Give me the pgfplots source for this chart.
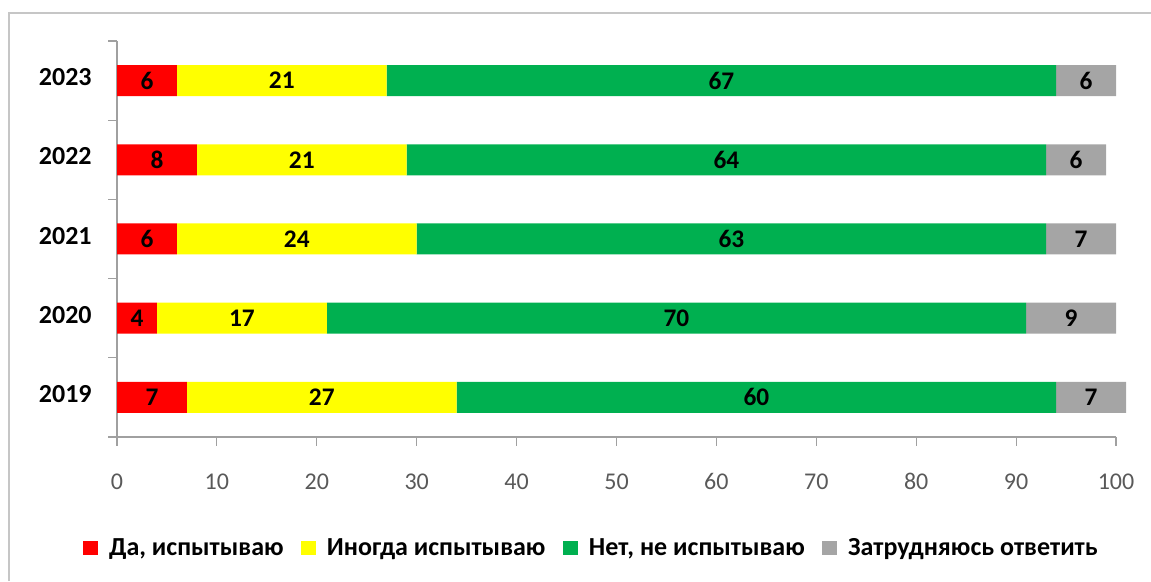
\documentclass[border=0pt]{standalone}
\usepackage{fontspec}
\setmainfont{Carlito}
\usepackage{pgfplots}
\usepackage{pgfplotstable}
\pgfplotsset{compat=1.18}
\definecolor{cRed}{HTML}{FF0000}
\definecolor{cYel}{HTML}{FFFF00}
\definecolor{cGrn}{HTML}{00B050}
\definecolor{cGry}{HTML}{A5A5A5}
\definecolor{axgray}{HTML}{A0A0A0}
\definecolor{tkgray}{HTML}{595959}
\pgfplotstableread{
y a b c d
0 7 27 60 7
1 4 17 70 9
2 6 24 63 7
3 8 21 64 6
4 6 21 67 6
}\data
\pgfplotsset{common/.style={
  at={(87.75pt,108pt)}, anchor=south west,
  scale only axis, width=749.25pt, height=297pt,
  clip=false, xmin=0, xmax=100, ymin=-0.5, ymax=4.5}}
\begin{document}
\begin{tikzpicture}
\useasboundingbox (0,0) rectangle (863.25pt,435.75pt);
\draw[gray!45, line width=0.8pt] (6.75pt,0) |- (863.25pt,426pt);
\begin{axis}[
  common,
  xbar stacked, bar width=23.25pt,
  xtick={0,10,...,100},
  ytick={-0.5,0.5,1.5,2.5,3.5,4.5},
  y tick label as interval,
  yticklabels={2019,2020,2021,2022,2023},
  axis x line*=bottom, axis y line*=left,
  axis line style={axgray, line width=0.8pt},
  tick style={axgray, line width=0.8pt},
  tick align=outside, major tick length=6.5pt,
  /pgf/number format/assume math mode=true,
  typeset ticklabels with strut,
  xticklabel style={font=\fontsize{18}{18}\selectfont, text=tkgray, yshift=-17pt},
  yticklabel style={font=\bfseries\fontsize{19.5}{19.5}\selectfont, text=black, xshift=-9pt},
  legend columns=4,
  legend style={draw=none, at={(0.4745,-0.28)}, anchor=center,
    font=\bfseries\fontsize{19.5}{19.5}\selectfont,
    nodes={inner sep=1pt},
    /tikz/every odd column/.append style={column sep=7.5pt},
    /tikz/every even column/.append style={column sep=12pt}},
  legend image code/.code={\fill[#1] (0pt,-5.5pt) rectangle (11pt,5.5pt);},
]
\addplot[fill=cRed, draw=none] table[x=a,y=y] {\data};
\addplot[fill=cYel, draw=none] table[x=b,y=y] {\data};
\addplot[fill=cGrn, draw=none] table[x=c,y=y] {\data};
\addplot[fill=cGry, draw=none] table[x=d,y=y] {\data};
\legend{{Да, испытываю}, Иногда испытываю, {Нет, не испытываю}, Затрудняюсь ответить}
\end{axis}
\begin{axis}[
  common, hide axis,
  point meta=explicit symbolic,
  nodes near coords,
  nodes near coords style={anchor=center, font=\bfseries\fontsize{19}{19}\selectfont, text=black},
]
\addplot[draw=none, mark=none] table[x expr=\thisrow{a}/2, y=y, meta=a] {\data};
\addplot[draw=none, mark=none] table[x expr=\thisrow{a}+\thisrow{b}/2, y=y, meta=b] {\data};
\addplot[draw=none, mark=none] table[x expr=\thisrow{a}+\thisrow{b}+\thisrow{c}/2, y=y, meta=c] {\data};
\addplot[draw=none, mark=none] table[x expr=\thisrow{a}+\thisrow{b}+\thisrow{c}+\thisrow{d}/2, y=y, meta=d] {\data};
\end{axis}
\end{tikzpicture}
\end{document}
